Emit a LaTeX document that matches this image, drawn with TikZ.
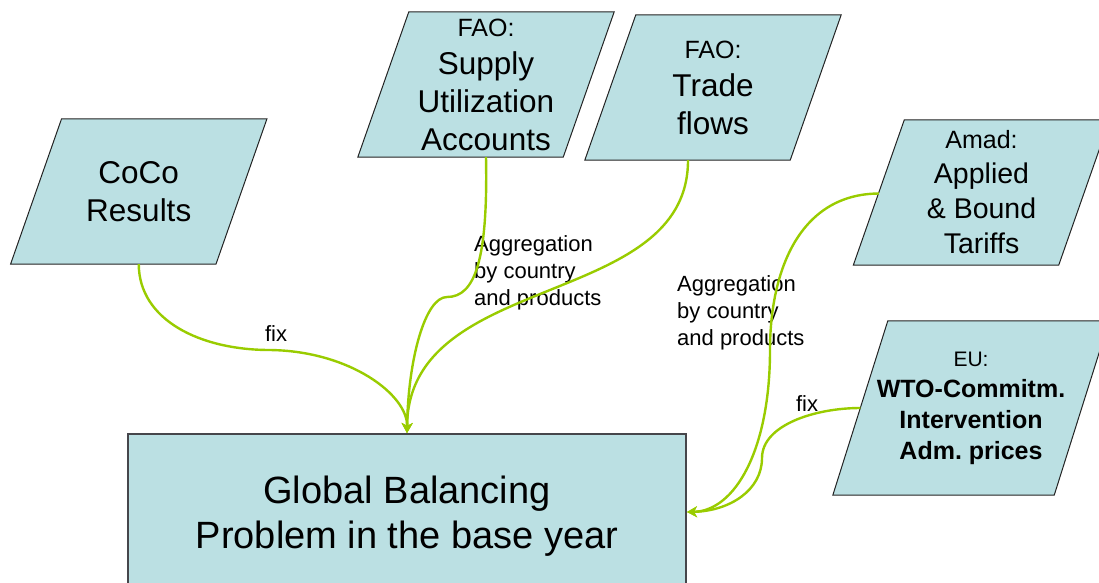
\documentclass[tikz,border=0pt]{standalone}
\usepackage{fontspec}
\setmainfont{Liberation Sans}
\usetikzlibrary{positioning,arrows.meta,calc,backgrounds}
\definecolor{srcfill}{RGB}{187,224,227}
\definecolor{srcline}{RGB}{35,35,35}
\definecolor{boxline}{RGB}{70,70,75}
\definecolor{flowc}{RGB}{153,204,0}

\begin{document}
\begin{tikzpicture}[x=1pt,y=-1pt,>={Stealth[length=10pt,width=11pt,inset=3pt]},
  src/.style={minimum width=205pt,minimum height=145pt,inner sep=0pt,align=center,
    font=\fontsize{31.5}{38}\selectfont},
  flow/.style={flowc,line width=2.4pt,->},
  note/.style={align=left,inner sep=0pt,font=\fontsize{22}{27}\selectfont}]
  \useasboundingbox (0,0) rectangle (1099,582);
  \node[src] (coco) at (138.75,191.5) {CoCo\\Results};
  \node[src] (sua) at (486,84.5) {{\fontsize{25}{38}\selectfont FAO:}\\Supply\\Utilization\\Accounts};
  \node[src] (trade) at (713,87.5) {{\fontsize{25}{38}\selectfont FAO:}\\Trade\\flows};
  \node[src,font=\fontsize{28.5}{35}\selectfont] (amad) at (981.5,192.5)
    {{\fontsize{25}{35}\selectfont Amad:}\\Applied\\\& Bound\\Tariffs};
  \node[src,minimum width=221pt,minimum height=174pt,font=\fontsize{25}{31}\selectfont\bfseries]
    (eu) at (971,408) {{\mdseries\fontsize{21}{31}\selectfont EU:}\\WTO-Commitm.\\Intervention\\Adm.\ prices};
  \node[draw=boxline,fill=srcfill,line width=2pt,minimum width=558pt,minimum height=164pt,
    align=center,font=\fontsize{38}{45}\selectfont] (gbp) at (407,516)
    {Global Balancing\\Problem in the base year};
  \begin{scope}[on background layer]
    \foreach \n/\s in {coco/25.5,sua/25.5,trade/25.5,amad/25.5,eu/27.5}
      \filldraw[fill=srcfill,draw=srcline,line width=1pt]
        ($(\n.south west)+(-\s,0)$) -- ($(\n.south east)+(-\s,0)$) --
        ($(\n.north east)+(\s,0)$) -- ($(\n.north west)+(\s,0)$) -- cycle;
  \end{scope}
  \node[note,anchor=north west] (aggsua) at (474,235) {Aggregation\\by country\\and products};
  \node[note,anchor=north west] (aggamad) at (677,275) {Aggregation\\by country\\and products};
  \node[note] (fixcoco) at (276,334) {fix};
  \node[note] (fixeu) at (807,404) {fix};
  \draw[flow] (coco.south) .. controls (139,320) and (200,350) .. (270,350)
    .. controls (350,351) and (408,395) .. (gbp.north);
  \draw[flow] (sua.south) .. controls (488,260) and (475,297) .. (447,297)
    .. controls (425,297) and (408,360) .. (gbp.north);
  \draw[flow] ($(trade.south)+(-25,0)$) .. controls (688,310) and (408,270) .. (gbp.north);
  \draw[flow] ($(amad.west)+(0,1)$) .. controls (800,194) and (770,270) .. (770,350)
    .. controls (770,450) and (735,511) .. ($(gbp.east)+(0,-4)$);
  \draw[flow] (eu.west) .. controls (815,408) and (762,425) .. (762,458)
    .. controls (762,490) and (730,511) .. ($(gbp.east)+(0,-4)$);
\end{tikzpicture}
\end{document}
